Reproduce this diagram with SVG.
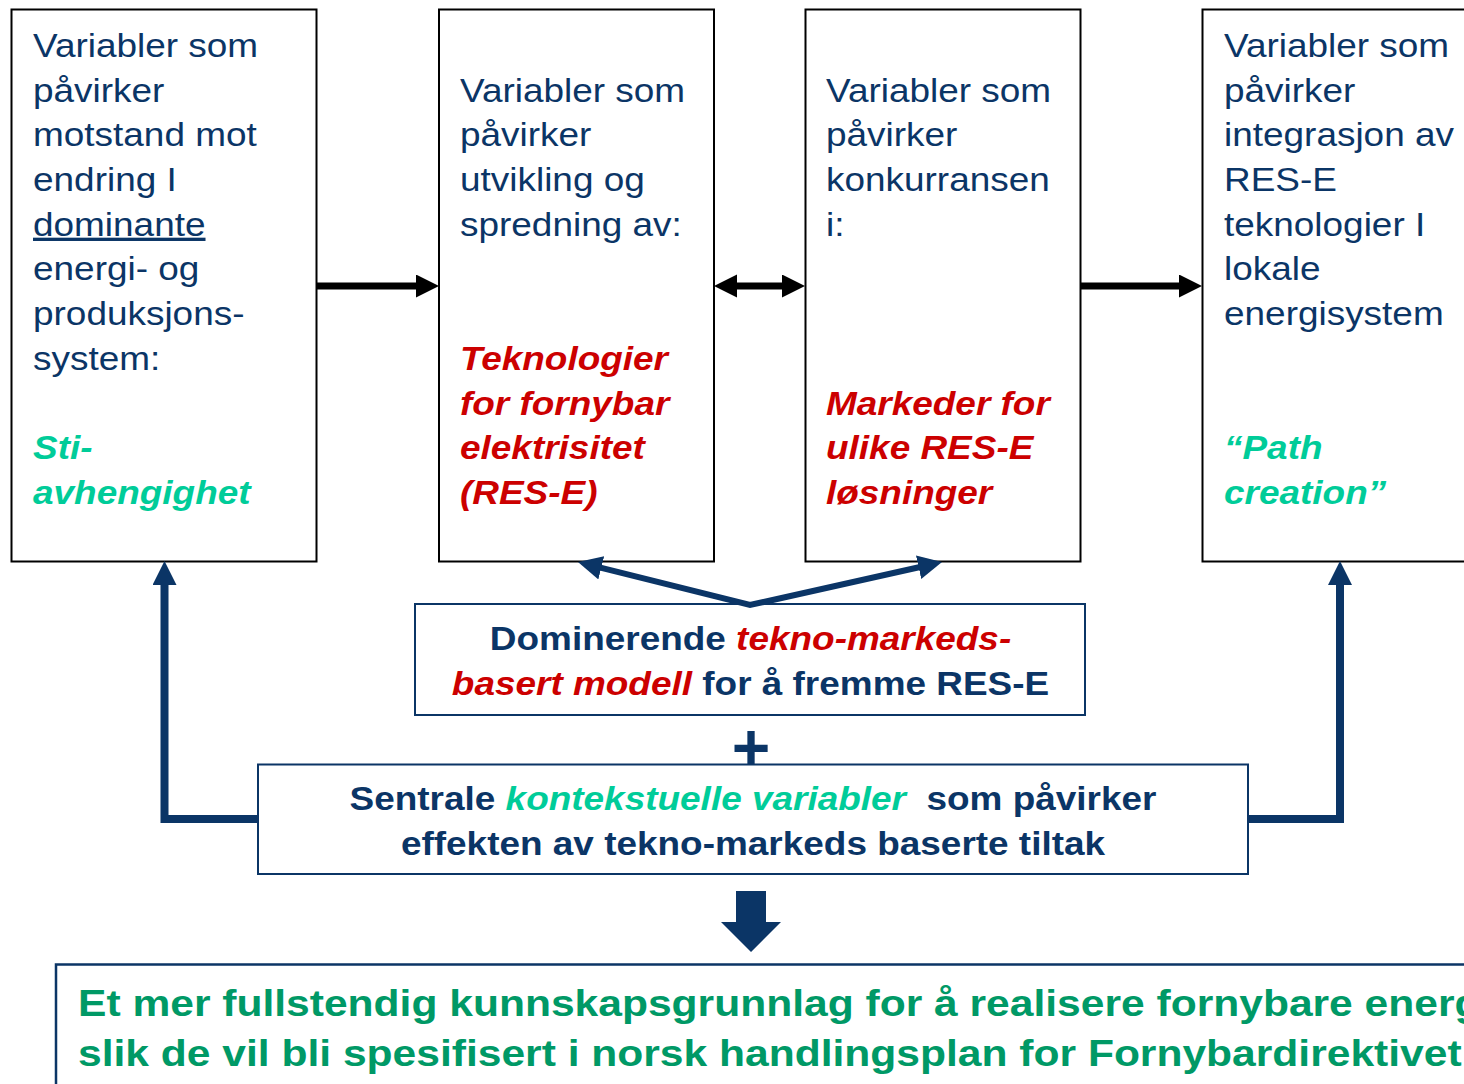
<svg xmlns="http://www.w3.org/2000/svg" width="1464" height="1084" viewBox="0 0 1464 1084">
<style>
.t{font-family:"Liberation Sans",Arial,Helvetica,sans-serif;font-size:33px;fill:#0B3566;}
.b{font-weight:bold;}
.red{fill:#CC0000;font-weight:bold;font-style:italic;}
.teal{fill:#00CC99;font-weight:bold;font-style:italic;}
.bt{font-family:"Liberation Sans",Arial,Helvetica,sans-serif;font-size:37.5px;font-weight:bold;fill:#009966;}
.nb{fill:#fff;stroke:#000;stroke-width:2;}
.bb{fill:#fff;stroke:#0B3566;stroke-width:2;}
.blk{fill:none;stroke:#000;stroke-width:7;}
.blu{fill:none;stroke:#0B3566;stroke-width:8;stroke-linejoin:miter;}
.blud{fill:none;stroke:#0B3566;stroke-width:6;stroke-linejoin:miter;stroke-miterlimit:20;}
</style>
<defs>
<marker id="ah" markerUnits="userSpaceOnUse" markerWidth="24" markerHeight="24" refX="5" refY="11.5" orient="auto-start-reverse">
<path d="M0,0 L23,11.5 L0,23 z" fill="#000"/>
</marker>
<marker id="bh" markerUnits="userSpaceOnUse" markerWidth="26" markerHeight="26" refX="5" refY="12" orient="auto-start-reverse">
<path d="M0,0 L24,12 L0,24 z" fill="#0B3566"/>
</marker>
</defs>
<rect x="0" y="0" width="1464" height="1084" fill="#fff"/>

<g id="box1">
<rect class="nb" x="11.5" y="9.5" width="305" height="552"/>
<g transform="translate(33 0) scale(1.12 1)">
<text class="t" x="0" y="57">Variabler som</text>
<text class="t" x="0" y="101.7">påvirker</text>
<text class="t" x="0" y="146.4">motstand mot</text>
<text class="t" x="0" y="191.1">endring I</text>
<text class="t" x="0" y="235.8" text-decoration="underline">dominante</text>
<text class="t" x="0" y="280.5">energi- og</text>
<text class="t" x="0" y="325.2">produksjons-</text>
<text class="t" x="0" y="369.9">system:</text>
<text class="t teal" x="0" y="459.3">Sti-</text>
<text class="t teal" x="0" y="504">avhengighet</text>
</g>
</g>

<g id="box2">
<rect class="nb" x="439" y="9.5" width="275" height="552"/>
<g transform="translate(460 0) scale(1.12 1)">
<text class="t" x="0" y="101.7">Variabler som</text>
<text class="t" x="0" y="146.4">påvirker</text>
<text class="t" x="0" y="191.1">utvikling og</text>
<text class="t" x="0" y="235.8">spredning av:</text>
<text class="t red" x="0" y="369.9">Teknologier</text>
<text class="t red" x="0" y="414.6">for fornybar</text>
<text class="t red" x="0" y="459.3">elektrisitet</text>
<text class="t red" x="0" y="504">(RES-E)</text>
</g>
</g>

<g id="box3">
<rect class="nb" x="805.5" y="9.5" width="275" height="552"/>
<g transform="translate(826 0) scale(1.12 1)">
<text class="t" x="0" y="101.7">Variabler som</text>
<text class="t" x="0" y="146.4">påvirker</text>
<text class="t" x="0" y="191.1">konkurransen</text>
<text class="t" x="0" y="235.8">i:</text>
<text class="t red" x="0" y="414.6">Markeder for</text>
<text class="t red" x="0" y="459.3">ulike RES-E</text>
<text class="t red" x="0" y="504">løsninger</text>
</g>
</g>

<g id="box4">
<rect class="nb" x="1202.5" y="9.5" width="300" height="552"/>
<g transform="translate(1224 0) scale(1.12 1)">
<text class="t" x="0" y="57">Variabler som</text>
<text class="t" x="0" y="101.7">påvirker</text>
<text class="t" x="0" y="146.4">integrasjon av</text>
<text class="t" x="0" y="191.1">RES-E</text>
<text class="t" x="0" y="235.8">teknologier I</text>
<text class="t" x="0" y="280.5">lokale</text>
<text class="t" x="0" y="325.2">energisystem</text>
<text class="t teal" x="0" y="459.3">“Path</text>
<text class="t teal" x="0" y="504">creation”</text>
</g>
</g>

<g id="model">
<rect class="bb" x="415" y="604" width="670" height="111"/>
<g transform="translate(750.5 0) scale(1.12 1)">
<text class="t b" x="0" y="650" text-anchor="middle">Dominerende <tspan class="red">tekno-markeds-</tspan></text>
<text class="t b" x="0" y="695" text-anchor="middle"><tspan class="red">basert modell</tspan> for å fremme RES-E</text>
</g>
</g>

<g id="plus">
<text class="t b" x="751" y="770" font-size="66" text-anchor="middle" style="font-size:66px">+</text>
</g>

<g id="context">
<rect class="bb" x="258" y="764.5" width="990" height="109.5"/>
<g transform="translate(753 0) scale(1.12 1)">
<text class="t b" x="0" y="810" text-anchor="middle" xml:space="preserve">Sentrale <tspan class="teal">kontekstuelle variabler</tspan>  som påvirker</text>
<text class="t b" x="0" y="855" text-anchor="middle">effekten av tekno-markeds baserte tiltak</text>
</g>
</g>

<g id="result">
<rect fill="#fff" stroke="#0B3566" stroke-width="2.5" x="56" y="964.5" width="1430" height="140"/>
<g transform="translate(78 0) scale(1.135 1)">
<text class="bt" x="0" y="1016">Et mer fullstendig kunnskapsgrunnlag for å realisere fornybare energ</text>
<text class="bt" x="0" y="1066">slik de vil bli spesifisert i norsk handlingsplan for Fornybardirektivet</text>
</g>
</g>

<g id="connectors">
<path class="blk" d="M317,286 L421,286" marker-end="url(#ah)"/>
<path class="blk" d="M732,286 L787,286" marker-start="url(#ah)" marker-end="url(#ah)"/>
<path class="blk" d="M1080,286 L1184,286" marker-end="url(#ah)"/>
<path class="blud" d="M596.4,566.6 L750,605 L923.5,566.2" marker-start="url(#bh)" marker-end="url(#bh)"/>
<path class="blu" d="M258,819 L164.5,819 L164.5,580" marker-end="url(#bh)"/>
<path class="blu" d="M1248,819 L1340,819 L1340,580" marker-end="url(#bh)"/>
<polygon points="736,891 766,891 766,922 781,922 751,952 721,922 736,922" fill="#0B3566"/>
</g>
</svg>
